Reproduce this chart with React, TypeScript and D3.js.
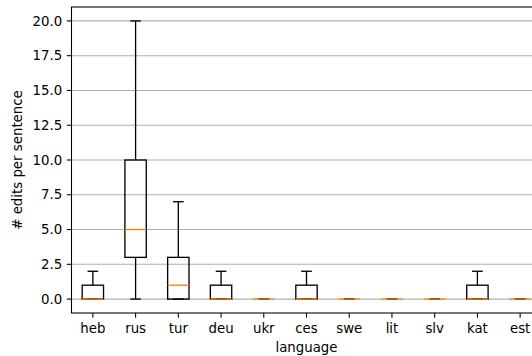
import React from 'react'
import * as d3 from 'd3'

// box statistics
const languages = ['heb', 'rus', 'tur', 'deu', 'ukr', 'ces', 'swe', 'lit', 'slv', 'kat', 'est']
const whiskerLow = [0, 0, 0, 0, 0, 0, 0, 0, 0, 0, 0]
const q1 = [0, 3, 0, 0, 0, 0, 0, 0, 0, 0, 0]
const median = [0, 5, 1, 0, 0, 0, 0, 0, 0, 0, 0]
const q3 = [1, 10, 3, 1, 0, 1, 0, 0, 0, 1, 0]
const whiskerHigh = [2, 20, 7, 2, 0, 2, 0, 0, 0, 2, 0]
const yTicks = [0, 2.5, 5, 7.5, 10, 12.5, 15, 17.5, 20]

const width = 532
const height = 356
const margin = { top: 7, right: -9.5, bottom: 43, left: 71.5 }

export default function App() {
  const innerW = width - margin.left - margin.right
  const innerH = height - margin.top - margin.bottom

  const x = d3.scaleLinear().domain([0.5, languages.length + 0.5]).range([0, innerW])
  const y = d3.scaleLinear().domain([-1, 21]).range([innerH, 0])
  const boxW = x(1.25) - x(1)
  const capW = boxW / 2
  const font = 'DejaVu Sans, sans-serif'
  const fs = 13.33

  return (
    <svg width={width} height={height}
      style={{ position: 'absolute', left: 0, top: 0, background: 'white' }}
      fontFamily={font}>
      <g transform={`translate(${margin.left},${margin.top})`}>
        {/* horizontal grid */}
        {yTicks.map(t => (
          <line key={'g' + t} x1={0} x2={innerW} y1={y(t)} y2={y(t)} stroke="#b0b0b0" strokeWidth={1.07} />
        ))}

        {languages.map((lang, i) => {
          const cx = x(i + 1)
          return (
            <g key={lang} fill="none" strokeWidth={1.33}>
              <line x1={cx} x2={cx} y1={y(q1[i])} y2={y(whiskerLow[i])} stroke="black" />
              <line x1={cx} x2={cx} y1={y(q3[i])} y2={y(whiskerHigh[i])} stroke="black" />
              <line x1={cx - capW} x2={cx + capW} y1={y(whiskerLow[i])} y2={y(whiskerLow[i])} stroke="black" />
              <line x1={cx - capW} x2={cx + capW} y1={y(whiskerHigh[i])} y2={y(whiskerHigh[i])} stroke="black" />
              <rect x={cx - boxW} y={y(q3[i])} width={boxW * 2} height={y(q1[i]) - y(q3[i])} stroke="black" />
              <line x1={cx - boxW} x2={cx + boxW} y1={y(median[i])} y2={y(median[i])} stroke="#ff7f0e" strokeWidth={1.33} />
            </g>
          )
        })}

        {/* spines */}
        <rect x={0} y={0} width={innerW} height={innerH} fill="none" stroke="black" strokeWidth={1.07} />

        {/* y axis */}
        {yTicks.map(t => (
          <g key={'y' + t} transform={`translate(0,${y(t)})`}>
            <line x1={-4.67} x2={0} stroke="black" strokeWidth={1.07} />
            <text x={-9.3} dy="0.35em" textAnchor="end" fontSize={fs} fill="black">{d3.format('.1f')(t)}</text>
          </g>
        ))}

        {/* x axis */}
        {languages.map((lang, i) => (
          <g key={'x' + lang} transform={`translate(${x(i + 1)},${innerH})`}>
            <line y1={0} y2={4.67} stroke="black" strokeWidth={1.07} />
            <text y={19.5} textAnchor="middle" fontSize={fs} fill="black">{lang}</text>
          </g>
        ))}

        <text x={innerW / 2} y={innerH + 39} textAnchor="middle" fontSize={fs} fill="black">language</text>
        <text transform={`translate(${-49.5},${innerH / 2}) rotate(-90)`} textAnchor="middle" fontSize={fs} fill="black">
          # edits per sentence
        </text>
      </g>
    </svg>
  )
}
